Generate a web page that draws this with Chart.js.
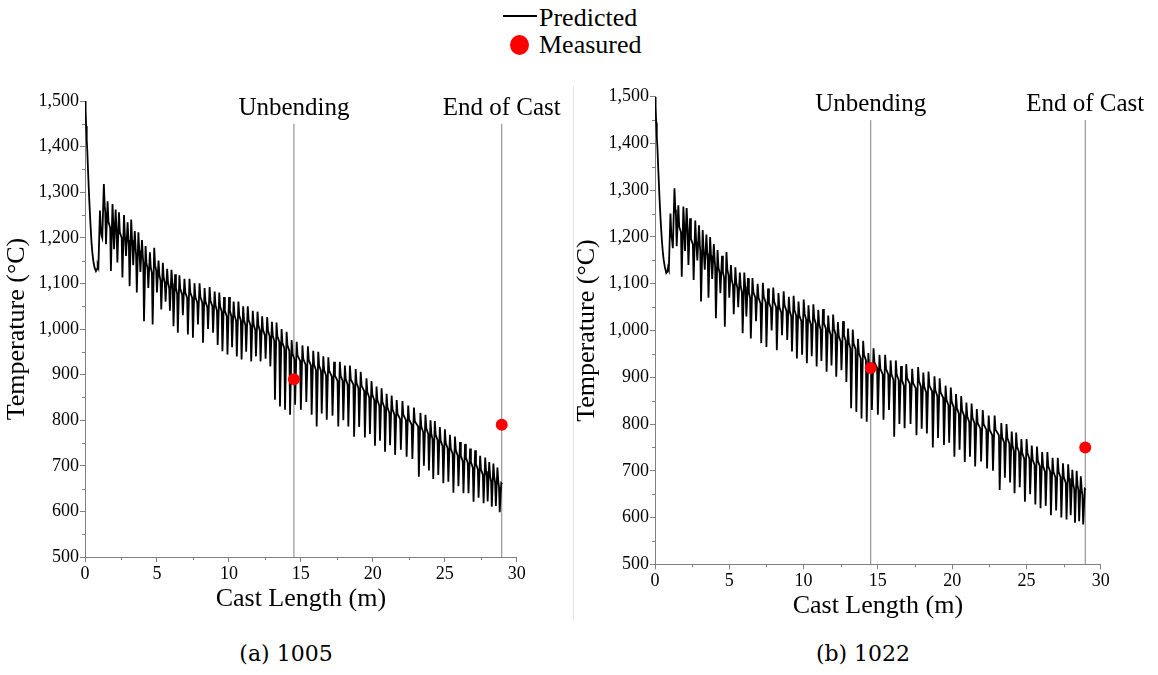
<!DOCTYPE html>
<html>
<head>
<meta charset="utf-8">
<script src="https://cdn.jsdelivr.net/npm/chart.js@4.4.1/dist/chart.umd.min.js"></script>
<style>
  html, body { margin: 0; padding: 0; background: #fff; }
  body { width: 1158px; height: 675px; position: relative; overflow: hidden; font-family: "Liberation Serif", serif; }
  canvas { position: absolute; }
  .txt { position: absolute; white-space: nowrap; color: #000; }
</style>
</head>
<body>
<div class="txt" style="left:503px;top:15px;width:34px;height:2px;background:#000;"></div>
<div class="txt" style="left:539px;top:5px;font-size:26px;line-height:26px;">Predicted</div>
<div class="txt" style="left:510px;top:35px;width:19px;height:20px;border-radius:50%;background:#ff0000;"></div>
<div class="txt" style="left:539px;top:32px;font-size:26px;line-height:26px;">Measured</div>
<div class="txt" style="left:573px;top:86px;width:1px;height:535px;background:#e6e6e6;"></div>
<canvas id="chartA" width="572" height="545" style="left:0px;top:80px;width:572px;height:545px;"></canvas>
<canvas id="chartB" width="588" height="556" style="left:570px;top:76px;width:588px;height:556px;"></canvas>
<div class="txt" style="left:186px;top:640px;width:200px;text-align:center;font-size:22px;line-height:28px;font-family:'DejaVu Serif',serif;">(a) 1005</div>
<div class="txt" style="left:763px;top:640px;width:200px;text-align:center;font-size:22px;line-height:28px;font-family:'DejaVu Serif',serif;">(b) 1022</div>
<script>
// ---------------- data ----------------
// initial (mould) part of the curve
const startX  = [0, 0.04, 0.08, 0.12, 0.16, 0.22, 0.3, 0.38, 0.46, 0.52, 0.58, 0.66, 0.76, 0.84];
const aStartY = [1500, 1480, 1445, 1415, 1390, 1340, 1281, 1230, 1186, 1165, 1149, 1135, 1127, 1132];
const bStartY = [1500, 1480, 1445, 1415, 1393, 1345, 1286, 1235, 1194, 1170, 1152, 1136, 1123, 1126];

// roll contact positions (m)
const castRoll = [0.93, 1.2, 1.46, 1.8, 2.02, 2.25, 2.6, 2.85, 3.1, 3.35,
  3.6, 3.85, 4.1, 4.4, 4.7, 5.0, 5.3, 5.6, 5.9, 6.15,
  6.45, 6.8, 7.15, 7.5, 7.85, 8.2, 8.55, 8.9, 9.22, 9.55,
  9.9, 10.22, 10.55, 10.88, 11.2, 11.55, 11.88, 12.2, 12.55, 12.88,
  13.2, 13.55, 13.9, 14.25, 14.6, 15.0, 15.38, 15.75, 16.1, 16.45,
  16.8, 17.2, 17.6, 17.95, 18.3, 18.7, 19.05, 19.45, 19.8, 20.15,
  20.5, 20.85, 21.2, 21.55, 21.95, 22.35, 22.75, 23.2, 23.55, 23.9,
  24.2, 24.55, 24.9, 25.25, 25.6, 25.95, 26.3, 26.65, 27.0, 27.35,
  27.7, 27.98, 28.27, 28.55, 28.82];

// (a) 1005 : just before roll, trough at roll, reheated peak, level after the peak
const aPre = [1140, 1205, 1255, 1222, 1218, 1208, 1200, 1193, 1183, 1183,
  1163, 1160, 1146, 1133, 1123, 1128, 1106, 1100, 1090, 1088,
  1078, 1076, 1068, 1068, 1058, 1058, 1048, 1050, 1040, 1038,
  1028, 1028, 1018, 1018, 1008, 1008, 998, 996, 986, 984,
  974, 972, 958, 952, 934, 930, 922, 920, 910, 908,
  898, 896, 886, 886, 878, 878, 870, 864, 850, 844,
  832, 828, 816, 812, 802, 800, 790, 786, 774, 770,
  758, 756, 743, 738, 726, 722, 710, 706, 696, 692,
  680, 676, 666, 663, 654];
const aTrough = [1135, 1200, 1186, 1127, 1175, 1146, 1113, 1160, 1094, 1140,
  1080, 1125, 1017, 1090, 1010, 1080, 1043, 1060, 1040, 1006,
  992, 1030, 988, 981, 1010, 970, 1000, 992, 965, 951,
  944, 960, 940, 933, 950, 929, 940, 929, 935, 918,
  845, 830, 823, 812, 834, 823, 840, 812, 786, 815,
  801, 810, 786, 800, 786, 764, 785, 762, 770, 744,
  755, 731, 745, 724, 735, 720, 715, 676, 700, 690,
  671, 680, 662, 665, 641, 655, 640, 640, 621, 630,
  618, 622, 610, 612, 598];
const aPeak = [1260, 1318, 1280, 1274, 1262, 1256, 1250, 1234, 1240, 1215,
  1212, 1195, 1182, 1168, 1178, 1150, 1145, 1132, 1130, 1120,
  1118, 1110, 1110, 1100, 1100, 1090, 1092, 1082, 1080, 1070,
  1070, 1060, 1060, 1050, 1050, 1040, 1038, 1028, 1026, 1016,
  1014, 1000, 994, 976, 972, 964, 962, 952, 950, 940,
  938, 928, 928, 920, 920, 912, 906, 892, 886, 874,
  870, 858, 854, 844, 842, 832, 828, 816, 812, 800,
  798, 785, 780, 768, 764, 752, 748, 738, 734, 722,
  718, 708, 705, 696, 662];
const aPost = [1215, 1270, 1235, 1230, 1220, 1212, 1205, 1195, 1195, 1175,
  1172, 1158, 1145, 1135, 1140, 1118, 1112, 1102, 1100, 1090,
  1088, 1080, 1080, 1070, 1070, 1060, 1062, 1052, 1050, 1040,
  1040, 1030, 1030, 1020, 1020, 1010, 1008, 998, 996, 986,
  984, 970, 964, 946, 942, 934, 932, 922, 920, 910,
  908, 898, 898, 890, 890, 882, 876, 862, 856, 844,
  840, 828, 824, 814, 812, 802, 798, 786, 782, 770,
  768, 755, 750, 738, 734, 722, 718, 708, 704, 692,
  688, 678, 675, 666, 660];

// (b) 1022
const bPre = [1135, 1193, 1246, 1210, 1208, 1206, 1184, 1178, 1170, 1160,
  1153, 1148, 1136, 1123, 1113, 1118, 1096, 1090, 1082, 1082,
  1070, 1070, 1058, 1060, 1048, 1050, 1038, 1042, 1030, 1032,
  1020, 1024, 1012, 1014, 1002, 1004, 990, 992, 976, 978,
  962, 960, 940, 936, 910, 920, 906, 906, 894, 894,
  882, 886, 876, 880, 868, 870, 860, 856, 840, 836,
  822, 818, 804, 802, 790, 788, 776, 776, 760, 758,
  742, 740, 726, 726, 712, 710, 698, 698, 686, 686,
  674, 672, 660, 658, 648];
const bTrough = [1130, 1176, 1180, 1115, 1170, 1140, 1108, 1150, 1062, 1130,
  1070, 1110, 1026, 1080, 1008, 1070, 1035, 1050, 994, 1030,
  983, 1020, 973, 965, 1000, 958, 990, 980, 955, 940,
  948, 930, 945, 923, 935, 912, 925, 901, 915, 890,
  834, 826, 812, 805, 830, 820, 809, 830, 773, 800,
  791, 800, 776, 790, 780, 750, 770, 755, 760, 730,
  745, 719, 730, 709, 720, 705, 700, 659, 685, 675,
  652, 665, 634, 650, 628, 620, 625, 605, 615, 600,
  596, 605, 589, 592, 585];
const bPeak = [1250, 1304, 1268, 1265, 1262, 1240, 1235, 1225, 1215, 1205,
  1200, 1185, 1172, 1160, 1168, 1140, 1135, 1124, 1124, 1112,
  1112, 1100, 1102, 1090, 1092, 1080, 1084, 1072, 1074, 1062,
  1066, 1054, 1056, 1044, 1046, 1032, 1034, 1018, 1020, 1004,
  1002, 982, 978, 952, 962, 948, 948, 936, 936, 924,
  928, 918, 922, 910, 912, 902, 898, 882, 878, 864,
  860, 846, 844, 832, 830, 818, 818, 802, 800, 784,
  782, 768, 768, 754, 752, 740, 740, 728, 728, 716,
  714, 702, 700, 688, 661];
const bPost = [1205, 1258, 1222, 1220, 1218, 1196, 1190, 1182, 1172, 1165,
  1160, 1148, 1135, 1125, 1130, 1108, 1102, 1094, 1094, 1082,
  1082, 1070, 1072, 1060, 1062, 1050, 1054, 1042, 1044, 1032,
  1036, 1024, 1026, 1014, 1016, 1002, 1004, 988, 990, 974,
  972, 952, 948, 922, 932, 918, 918, 906, 906, 894,
  898, 888, 892, 880, 882, 872, 868, 852, 848, 834,
  830, 816, 814, 802, 800, 788, 788, 772, 770, 754,
  752, 738, 738, 724, 722, 710, 710, 698, 698, 686,
  684, 672, 670, 660, 659];

// measured points
const measuredX = [14.52, 28.96];
const aMeasured = [890, 790];
const bMeasured = [920, 750];

// reference markers
const markerX = [14.52, 28.96];
const markerLabels = ['Unbending', 'End of Cast'];
const markerTop = 1450;

// ticks
const xTicks = [0, 5, 10, 15, 20, 25, 30];
const xMinor = [2.5, 7.5, 12.5, 17.5, 22.5, 27.5];
const yTicks = [500, 600, 700, 800, 900, 1000, 1100, 1200, 1300, 1400, 1500];
const yMinor = [550, 650, 750, 850, 950, 1050, 1150, 1250, 1350, 1450];

// ---------------- chart ----------------
const AXIS = '#808080';
const FAMILY = "'Liberation Serif', 'Times New Roman', serif";
Chart.defaults.font.family = FAMILY;
Chart.defaults.color = '#000';

function buildSeries(startY, pre, trough, peak, post) {
  const pts = startX.map((x, i) => ({ x: x, y: startY[i] }));
  castRoll.forEach((r, i) => {
    pts.push({ x: r - 0.05, y: pre[i] });
    pts.push({ x: r, y: trough[i] });
    pts.push({ x: r + 0.11, y: peak[i] });
    pts.push({ x: r + 0.17, y: post[i] });
  });
  return pts;
}

const decoPlugin = {
  id: 'deco',
  afterDatasetsDraw(chart) {
    const ctx = chart.ctx;
    const xs = chart.scales.x, ys = chart.scales.y;
    ctx.save();
    ctx.fillStyle = '#000';
    ctx.font = "25px " + FAMILY;
    ctx.textAlign = 'center';
    ctx.textBaseline = 'alphabetic';
    markerX.forEach((v, i) => {
      ctx.fillText(markerLabels[i], xs.getPixelForValue(v), ys.getPixelForValue(markerTop) - 9);
    });
    ctx.restore();
  },
  afterDraw(chart) {
    const ctx = chart.ctx;
    const xs = chart.scales.x, ys = chart.scales.y;
    const area = chart.chartArea;
    ctx.save();
    ctx.strokeStyle = AXIS;
    ctx.lineWidth = 1;
    ctx.beginPath();
    xMinor.forEach(v => {
      const px = Math.round(xs.getPixelForValue(v)) + 0.5;
      ctx.moveTo(px, area.bottom);
      ctx.lineTo(px, area.bottom + 3);
    });
    yMinor.forEach(v => {
      const py = Math.round(ys.getPixelForValue(v)) + 0.5;
      ctx.moveTo(area.left - 3, py);
      ctx.lineTo(area.left, py);
    });
    ctx.stroke();
    ctx.restore();
  }
};

function makePanel(id, startY, pre, trough, peak, post, measured, xHeight, pad) {
  const vLines = markerX.map(v => ({
    type: 'line',
    data: [{ x: v, y: 500 }, { x: v, y: markerTop }],
    borderColor: AXIS, borderWidth: 1, pointRadius: 0, fill: false
  }));
  return new Chart(document.getElementById(id), {
    type: 'scatter',
    data: {
      datasets: [
        {
          label: 'Measured',
          data: measuredX.map((x, i) => ({ x: x, y: measured[i] })),
          backgroundColor: '#ff0000', borderColor: '#ff0000',
          pointRadius: 6, pointBorderWidth: 0
        },
        {
          type: 'line',
          label: 'Predicted',
          data: buildSeries(startY, pre, trough, peak, post),
          borderColor: '#000', borderWidth: 1.8, pointRadius: 0,
          tension: 0, fill: false, borderJoinStyle: 'miter'
        }
      ].concat(vLines)
    },
    options: {
      responsive: false,
      animation: false,
      events: [],
      layout: { padding: pad },
      plugins: { legend: { display: false }, tooltip: { enabled: false } },
      scales: {
        x: {
          type: 'linear', min: 0, max: 30,
          afterBuildTicks: s => { s.ticks = xTicks.map(v => ({ value: v })); },
          ticks: { font: { family: FAMILY, size: 18 }, color: '#000', padding: 1, maxRotation: 0, autoSkip: false },
          grid: { drawOnChartArea: false, drawTicks: true, tickLength: 5, color: AXIS, tickColor: AXIS },
          border: { display: true, color: AXIS, width: 1 },
          title: { display: true, text: 'Cast Length (m)', font: { family: FAMILY, size: 26 }, color: '#000', padding: { top: 0, bottom: 10 } },
          afterFit: s => { s.height = xHeight; }
        },
        y: {
          type: 'linear', min: 500, max: 1500,
          afterBuildTicks: s => { s.ticks = yTicks.map(v => ({ value: v })); },
          ticks: { font: { family: FAMILY, size: 18 }, color: '#000', padding: 1, autoSkip: false,
                   callback: v => v.toLocaleString('en-US') },
          grid: { drawOnChartArea: false, drawTicks: true, tickLength: 5, color: AXIS, tickColor: AXIS },
          border: { display: true, color: AXIS, width: 1 },
          title: { display: true, text: 'Temperature (°C)', font: { family: FAMILY, size: 26 }, color: '#000', padding: { top: 2, bottom: 0 } },
          afterFit: s => { s.width = 85; }
        }
      }
    },
    plugins: [decoPlugin]
  });
}

makePanel('chartA', aStartY, aPre, aTrough, aPeak, aPost, aMeasured, 68,
  { left: 0, top: 21, right: 55.3, bottom: 0 });
makePanel('chartB', bStartY, bPre, bTrough, bPeak, bPost, bMeasured, 67.7,
  { left: 0, top: 20.7, right: 57.3, bottom: 0 });
</script>
</body>
</html>
